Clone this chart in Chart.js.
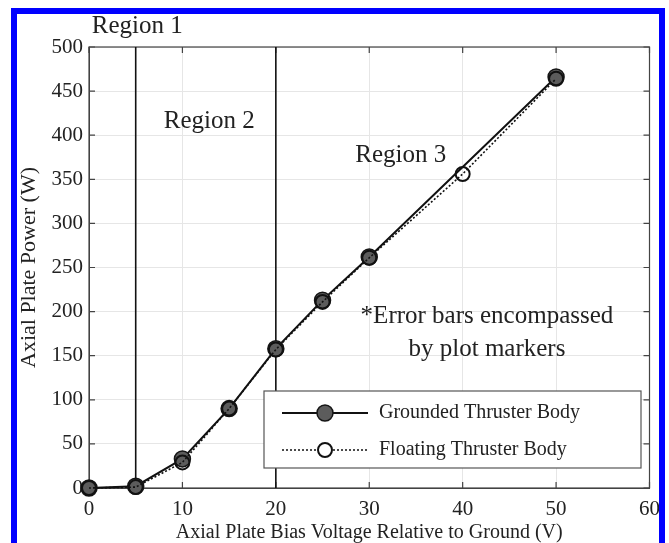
<!DOCTYPE html>
<html>
<head>
<meta charset="utf-8">
<script src="https://cdn.jsdelivr.net/npm/chart.js@4"></script>
<style>
  html, body { margin: 0; padding: 0; background: #fff; }
  #wrap { width: 669px; height: 543px; }
</style>
</head>
<body>
<div id="wrap"><canvas id="chart" width="669" height="543"></canvas></div>
<script>
'use strict';

var voltage = [0, 5, 10, 15, 20, 25, 30, 40, 50];
var groundedPower = [0, 2, 33, 90, 158, 213, 262, null, 466];
var floatingPower = [0, 1, 29, 90, 157, 211, 261, 356, 464];
var regionBounds = [5, 20];
var seriesNames = ['Grounded Thruster Body', 'Floating Thruster Body'];
var xTitle = 'Axial Plate Bias Voltage Relative to Ground (V)';
var yTitle = 'Axial Plate Power (W)';

var serif = "'Liberation Serif', 'DejaVu Serif', serif";
var ink = '#222';

function toPoints(xs, ys) {
    var pts = [];
    for (var i = 0; i < xs.length; i++) {
        pts.push({x: xs[i], y: ys[i]});
    }
    return pts;
}

var datasets = [];

// region divider lines
for (var i = 0; i < regionBounds.length; i++) {
    datasets.push({
        label: 'region' + i,
        data: [{x: regionBounds[i], y: 0}, {x: regionBounds[i], y: 500}],
        borderColor: '#111',
        borderWidth: 1.6,
        pointRadius: 0,
        order: 5
    });
}

datasets.push({
    label: seriesNames[0],
    data: toPoints(voltage, groundedPower),
    borderColor: '#111',
    borderWidth: 2,
    spanGaps: true,
    clip: false,
    pointRadius: 8,
    pointBackgroundColor: '#5c5c5c',
    pointBorderColor: '#151515',
    pointBorderWidth: 1.5,
    order: 2
});

datasets.push({
    label: seriesNames[1],
    data: toPoints(voltage, floatingPower),
    borderColor: '#111',
    borderWidth: 1.6,
    borderDash: [2, 2],
    clip: false,
    pointRadius: 7,
    pointBackgroundColor: 'rgba(0,0,0,0)',
    pointBorderColor: '#111',
    pointBorderWidth: 2,
    order: 1
});

var decorPlugin = {
    id: 'decor',
    beforeDraw: function(chart) {
        var ctx = chart.ctx;
        ctx.save();
        ctx.fillStyle = '#fff';
        ctx.fillRect(0, 0, chart.width, chart.height);
        ctx.restore();
    },
    beforeDatasetsDraw: function(chart) {
        var ctx = chart.ctx;
        var a = chart.chartArea;
        var xs = chart.scales.x;
        var ys = chart.scales.y;
        ctx.save();

        // frame + inward ticks
        ctx.strokeStyle = '#444';
        ctx.lineWidth = 1.2;
        ctx.strokeRect(a.left, a.top, a.right - a.left, a.bottom - a.top);
        ctx.beginPath();
        xs.ticks.forEach(function(t) {
            var px = xs.getPixelForValue(t.value);
            ctx.moveTo(px, a.bottom); ctx.lineTo(px, a.bottom - 6);
            ctx.moveTo(px, a.top); ctx.lineTo(px, a.top + 6);
        });
        ys.ticks.forEach(function(t) {
            var py = ys.getPixelForValue(t.value);
            ctx.moveTo(a.left, py); ctx.lineTo(a.left + 6, py);
            ctx.moveTo(a.right, py); ctx.lineTo(a.right - 6, py);
        });
        ctx.stroke();

        // region labels & note
        ctx.fillStyle = ink;
        ctx.font = '25px ' + serif;
        ctx.textBaseline = 'middle';
        ctx.textAlign = 'left';
        ctx.fillText('Region 1', xs.getPixelForValue(0.3), ys.getPixelForValue(523));
        ctx.fillText('Region 2', xs.getPixelForValue(8.0), ys.getPixelForValue(416));
        ctx.fillText('Region 3', xs.getPixelForValue(28.5), ys.getPixelForValue(377));
        ctx.textAlign = 'center';
        ctx.fillText('*Error bars encompassed', xs.getPixelForValue(42.6), ys.getPixelForValue(195));
        ctx.fillText('by plot markers', xs.getPixelForValue(42.6), ys.getPixelForValue(157));
        ctx.restore();
    },
    afterDatasetsDraw: function(chart) {
        var ctx = chart.ctx;
        var a = chart.chartArea;
        ctx.save();

        // legend box
        var lx = a.left + 175, ly = a.top + 344, lw = 377, lh = 77;
        ctx.fillStyle = '#fff';
        ctx.fillRect(lx, ly, lw, lh);
        ctx.strokeStyle = '#555';
        ctx.lineWidth = 1.2;
        ctx.strokeRect(lx, ly, lw, lh);

        var rows = [ly + 22, ly + 59];
        var x1 = lx + 18, x2 = lx + 104, mx = lx + 61;
        ctx.strokeStyle = '#111';
        ctx.lineWidth = 2;
        ctx.beginPath(); ctx.moveTo(x1, rows[0]); ctx.lineTo(x2, rows[0]); ctx.stroke();
        ctx.beginPath(); ctx.arc(mx, rows[0], 8, 0, Math.PI * 2);
        ctx.fillStyle = '#5c5c5c'; ctx.fill();
        ctx.lineWidth = 1.5; ctx.strokeStyle = '#151515'; ctx.stroke();

        ctx.setLineDash([2, 2]);
        ctx.lineWidth = 1.6;
        ctx.strokeStyle = '#111';
        ctx.beginPath(); ctx.moveTo(x1, rows[1]); ctx.lineTo(mx - 8, rows[1]);
        ctx.moveTo(mx + 8, rows[1]); ctx.lineTo(x2, rows[1]); ctx.stroke();
        ctx.setLineDash([]);
        ctx.lineWidth = 2;
        ctx.beginPath(); ctx.arc(mx, rows[1], 7, 0, Math.PI * 2); ctx.stroke();

        ctx.fillStyle = ink;
        ctx.font = '20px ' + serif;
        ctx.textAlign = 'left';
        ctx.textBaseline = 'middle';
        ctx.fillText(seriesNames[0], lx + 115, rows[0]);
        ctx.fillText(seriesNames[1], lx + 115, rows[1]);

        ctx.restore();
    },
    afterDraw: function(chart) {
        var ctx = chart.ctx;
        ctx.save();
        ctx.fillStyle = '#0000ff';
        ctx.fillRect(11, 8, 654, 6);
        ctx.fillRect(11, 8, 6, chart.height - 8);
        ctx.fillRect(659, 8, 6, chart.height - 8);
        ctx.restore();
    }
};

var ctx = document.getElementById('chart').getContext('2d');

var chart = new Chart(ctx, {
    type: 'line',
    data: {datasets: datasets},
    options: {
        responsive: false,
        animation: false,
        events: [],
        layout: {padding: {top: 47, right: 19, left: 0, bottom: 0}},
        plugins: {
            legend: {display: false},
            tooltip: {enabled: false}
        },
        scales: {
            x: {
                type: 'linear',
                min: 0,
                max: 60,
                afterFit: function(s) { s.height = 55; },
                ticks: {stepSize: 10, color: ink, padding: 9, font: {family: serif, size: 21}},
                grid: {color: '#e6e6e6', drawTicks: false},
                border: {color: '#444'},
                title: {display: true, text: xTitle, color: ink, font: {family: serif, size: 20}, padding: {top: 0, bottom: -2}}
            },
            y: {
                min: 0,
                max: 500,
                afterFit: function(s) { s.width = 89; },
                ticks: {stepSize: 50, color: ink, padding: 6, font: {family: serif, size: 21}},
                grid: {color: '#e6e6e6', drawTicks: false},
                border: {color: '#444'},
                title: {display: true, text: yTitle, color: ink, font: {family: serif, size: 22}, padding: {top: 16, bottom: 0}}
            }
        }
    },
    plugins: [decorPlugin]
});
</script>
</body>
</html>
